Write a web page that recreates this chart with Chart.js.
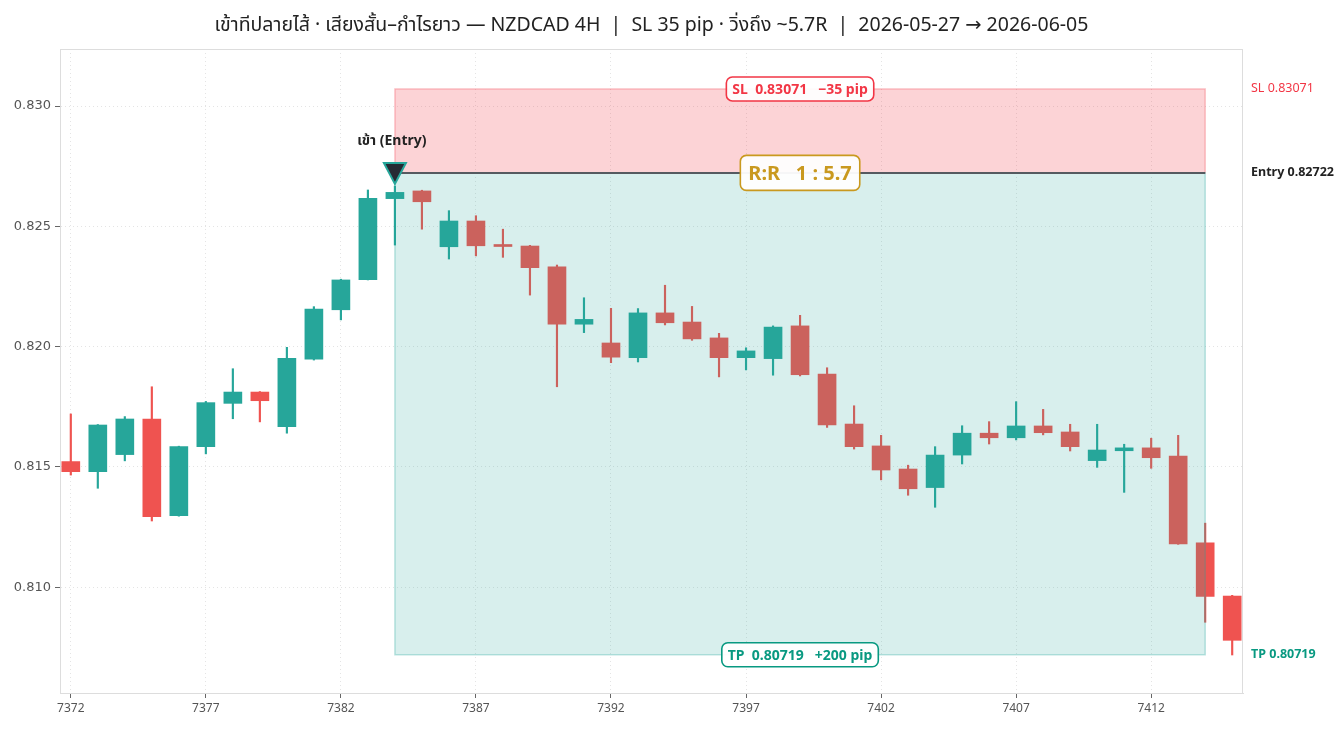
<!DOCTYPE html>
<html>
<head>
<meta charset="utf-8">
<script src="https://cdn.jsdelivr.net/npm/chart.js@4"></script>
<style>
  html, body { margin: 0; padding: 0; background: #fff; }
  #wrap { width: 1344px; height: 729px; }
</style>
</head>
<body>
<div id="wrap"><canvas id="chart"></canvas></div>
<script>
// bar numbers (4H candles)
const bars = [7372, 7373, 7374, 7375, 7376, 7377, 7378, 7379, 7380, 7381, 7382,
  7383, 7384, 7385, 7386, 7387, 7388, 7389, 7390, 7391, 7392, 7393, 7394, 7395,
  7396, 7397, 7398, 7399, 7400, 7401, 7402, 7403, 7404, 7405, 7406, 7407, 7408,
  7409, 7410, 7411, 7412, 7413, 7414, 7415];

const opens = [0.81522, 0.81480, 0.81551, 0.81699, 0.81297, 0.81584, 0.81764, 0.81811,
  0.81667, 0.81948, 0.82153, 0.82278, 0.82615, 0.82647, 0.82415, 0.82522, 0.82421,
  0.82418, 0.82331, 0.82093, 0.82015, 0.81954, 0.82140, 0.82102, 0.82036, 0.81954,
  0.81950, 0.82086, 0.81886, 0.81678, 0.81587, 0.81491, 0.81414, 0.81549, 0.81640,
  0.81621, 0.81670, 0.81645, 0.81526, 0.81567, 0.81579, 0.81545, 0.81184, 0.80963];
const highs = [0.81720, 0.81676, 0.81709, 0.81833, 0.81586, 0.81772, 0.81908, 0.81813,
  0.81997, 0.82166, 0.82280, 0.82651, 0.82667, 0.82650, 0.82565, 0.82544, 0.82488,
  0.82421, 0.82339, 0.82203, 0.82159, 0.82158, 0.82255, 0.82167, 0.82055, 0.81995,
  0.82086, 0.82130, 0.81912, 0.81754, 0.81631, 0.81507, 0.81584, 0.81671, 0.81688,
  0.81771, 0.81739, 0.81677, 0.81677, 0.81594, 0.81619, 0.81631, 0.81266, 0.80966];
const lows = [0.81466, 0.81411, 0.81525, 0.81275, 0.81295, 0.81554, 0.81700, 0.81687,
  0.81640, 0.81944, 0.82111, 0.82277, 0.82422, 0.82488, 0.82364, 0.82377, 0.82371,
  0.82214, 0.81833, 0.82058, 0.81933, 0.81936, 0.82090, 0.82026, 0.81874, 0.81903,
  0.81881, 0.81878, 0.81664, 0.81574, 0.81446, 0.81382, 0.81332, 0.81512, 0.81595,
  0.81612, 0.81633, 0.81566, 0.81498, 0.81394, 0.81494, 0.81178, 0.80854, 0.80718];
const closes = [0.81480, 0.81674, 0.81699, 0.81293, 0.81584, 0.81767, 0.81811, 0.81775,
  0.81951, 0.82156, 0.82277, 0.82616, 0.82641, 0.82602, 0.82522, 0.82419, 0.82416,
  0.82328, 0.82093, 0.82113, 0.81956, 0.82140, 0.82099, 0.82032, 0.81954, 0.81982,
  0.82081, 0.81883, 0.81674, 0.81584, 0.81487, 0.81409, 0.81549, 0.81640, 0.81621,
  0.81670, 0.81642, 0.81584, 0.81570, 0.81579, 0.81538, 0.81180, 0.80961, 0.80779];

const xTicks = [7372, 7377, 7382, 7387, 7392, 7397, 7402, 7407, 7412];
const yTicks = [0.810, 0.815, 0.820, 0.825, 0.830];

// trade setup
const entryBar = 7384;
const zoneEnd = 7414;
const entryPrice = 0.82722;
const stopLoss = 0.83071;
const takeProfit = 0.80719;
const slPips = 35;
const tpPips = 200;
const rr = 5.7;

const title = 'เข้าทีปลายไส้ · เสียงสั้น–กำไรยาว — NZDCAD 4H  |  SL 35 pip · วิ่งถึง ~5.7R  |  2026-05-27 → 2026-06-05';

const UP = '#26a69a';
const DOWN = '#ef5350';
const FONT = '"Noto Sans", "Noto Sans Thai", "DejaVu Sans", sans-serif';

const candleColors = bars.map((b, i) => closes[i] >= opens[i] ? UP : DOWN);
const bodyData = bars.map((b, i) => ({ x: b, y: [opens[i], closes[i]] }));
const wickData = bars.map((b, i) => ({ x: b, y: [lows[i], highs[i]] }));

function boxLabel(ctx, text, cx, cy, font, color, padX, h) {
  ctx.font = font;
  const w = ctx.measureText(text).width + padX * 2;
  ctx.beginPath();
  ctx.roundRect(cx - w / 2, cy - h / 2, w, h, 6);
  ctx.fillStyle = 'rgba(255,255,255,0.95)';
  ctx.fill();
  ctx.lineWidth = 1.6;
  ctx.strokeStyle = color;
  ctx.stroke();
  ctx.fillStyle = color;
  ctx.textAlign = 'center';
  ctx.textBaseline = 'middle';
  ctx.fillText(text, cx, cy + 1);
}

const tradePlugin = {
  id: 'trade',
  afterDatasetsDraw(chart) {
    const { ctx, chartArea: a, scales: { x, y } } = chart;
    const x0 = x.getPixelForValue(entryBar);
    const x1 = x.getPixelForValue(zoneEnd);
    const ySL = y.getPixelForValue(stopLoss);
    const yE = y.getPixelForValue(entryPrice);
    const yTP = y.getPixelForValue(takeProfit);
    ctx.save();

    // risk zone
    ctx.fillStyle = 'rgba(242,54,69,0.22)';
    ctx.fillRect(x0, ySL, x1 - x0, yE - ySL);
    ctx.strokeStyle = 'rgba(242,54,69,0.28)';
    ctx.lineWidth = 1.5;
    ctx.strokeRect(x0, ySL, x1 - x0, yE - ySL);

    // reward zone
    ctx.fillStyle = 'rgba(38,166,154,0.18)';
    ctx.fillRect(x0, yE, x1 - x0, yTP - yE);
    ctx.strokeStyle = 'rgba(38,166,154,0.3)';
    ctx.strokeRect(x0, yE, x1 - x0, yTP - yE);

    // entry line
    ctx.beginPath();
    ctx.moveTo(x0, yE);
    ctx.lineTo(x1, yE);
    ctx.lineWidth = 2;
    ctx.strokeStyle = '#555a60';
    ctx.stroke();

    // frame
    ctx.lineWidth = 1;
    ctx.strokeStyle = '#dddddd';
    ctx.strokeRect(a.left + 0.5, a.top + 0.5, a.right - a.left - 1, a.bottom - a.top);

    // boxed labels
    const cx = (x0 + x1) / 2;
    boxLabel(ctx, 'SL  ' + stopLoss.toFixed(5) + '   −' + slPips + ' pip', cx, ySL, 'bold 14px ' + FONT, '#f23645', 6, 24);
    boxLabel(ctx, 'TP  ' + takeProfit.toFixed(5) + '   +' + tpPips + ' pip', cx, yTP, 'bold 14px ' + FONT, '#089981', 6, 24);
    boxLabel(ctx, 'R:R   1 : ' + rr.toFixed(1), cx, yE, 'bold 20px ' + FONT, '#c9991f', 8, 35);

    // entry marker
    ctx.beginPath();
    ctx.moveTo(x0 - 11, yE - 10);
    ctx.lineTo(x0 + 11, yE - 10);
    ctx.lineTo(x0, yE + 11);
    ctx.closePath();
    ctx.fillStyle = '#262a33';
    ctx.fill();
    ctx.lineWidth = 2;
    ctx.strokeStyle = UP;
    ctx.stroke();

    ctx.font = 'bold 14px ' + FONT;
    ctx.fillStyle = '#222';
    ctx.textAlign = 'center';
    ctx.textBaseline = 'middle';
    ctx.fillText('เข้า (Entry)', x0 - 3, yE - 32);

    // right side level labels
    ctx.textAlign = 'left';
    ctx.font = '12.5px ' + FONT;
    ctx.fillStyle = '#f23645';
    ctx.fillText('SL ' + stopLoss.toFixed(5), a.right + 8, ySL);
    ctx.font = 'bold 12.5px ' + FONT;
    ctx.fillStyle = '#222';
    ctx.fillText('Entry ' + entryPrice.toFixed(5), a.right + 8, yE);
    ctx.fillStyle = '#089981';
    ctx.fillText('TP ' + takeProfit.toFixed(5), a.right + 8, yTP);

    // title centered over the plot
    ctx.font = '19.5px ' + FONT;
    ctx.fillStyle = '#222';
    ctx.textAlign = 'center';
    ctx.fillText(title, (a.left + a.right) / 2, 25);
    ctx.restore();
  }
};

new Chart(document.getElementById('chart'), {
  type: 'bar',
  data: {
    datasets: [
      {
        label: 'body',
        data: bodyData,
        backgroundColor: candleColors,
        borderColor: candleColors,
        borderWidth: 0,
        barThickness: 18,
        grouped: false,
        minBarLength: 2
      },
      {
        label: 'wick',
        data: wickData,
        backgroundColor: candleColors,
        borderWidth: 0,
        barThickness: 1.5,
        grouped: false
      }
    ]
  },
  options: {
    responsive: true,
    maintainAspectRatio: false,
    animation: false,
    layout: { padding: { left: 0, right: 101, top: 49, bottom: 0 } },
    plugins: {
      legend: { display: false },
      title: { display: false },
      tooltip: { enabled: false }
    },
    scales: {
      x: {
        type: 'linear',
        min: 7371.6,
        max: 7415.4,
        offset: false,
        afterBuildTicks: s => { s.ticks = xTicks.map(v => ({ value: v })); },
        afterFit: s => { s.height = 36; },
        ticks: {
          callback: v => String(v),
          color: '#555',
          font: { family: FONT, size: 12 },
          maxRotation: 0,
          padding: 3
        },
        grid: { offset: false, color: '#e4e4e4', tickColor: '#666', tickLength: 5 },
        border: { color: '#dddddd', dash: [1, 3] }
      },
      y: {
        min: 0.8056,
        max: 0.83237,
        afterBuildTicks: s => { s.ticks = yTicks.map(v => ({ value: v })); },
        afterFit: s => { s.width = 60; },
        ticks: {
          callback: v => v.toFixed(3),
          color: '#555',
          font: { family: '"DejaVu Sans", sans-serif', size: 13 },
          padding: 4
        },
        grid: { color: '#e4e4e4', tickColor: '#666', tickLength: 5 },
        border: { color: '#dddddd', dash: [1, 3] }
      }
    }
  },
  plugins: [tradePlugin]
});
</script>
</body>
</html>
